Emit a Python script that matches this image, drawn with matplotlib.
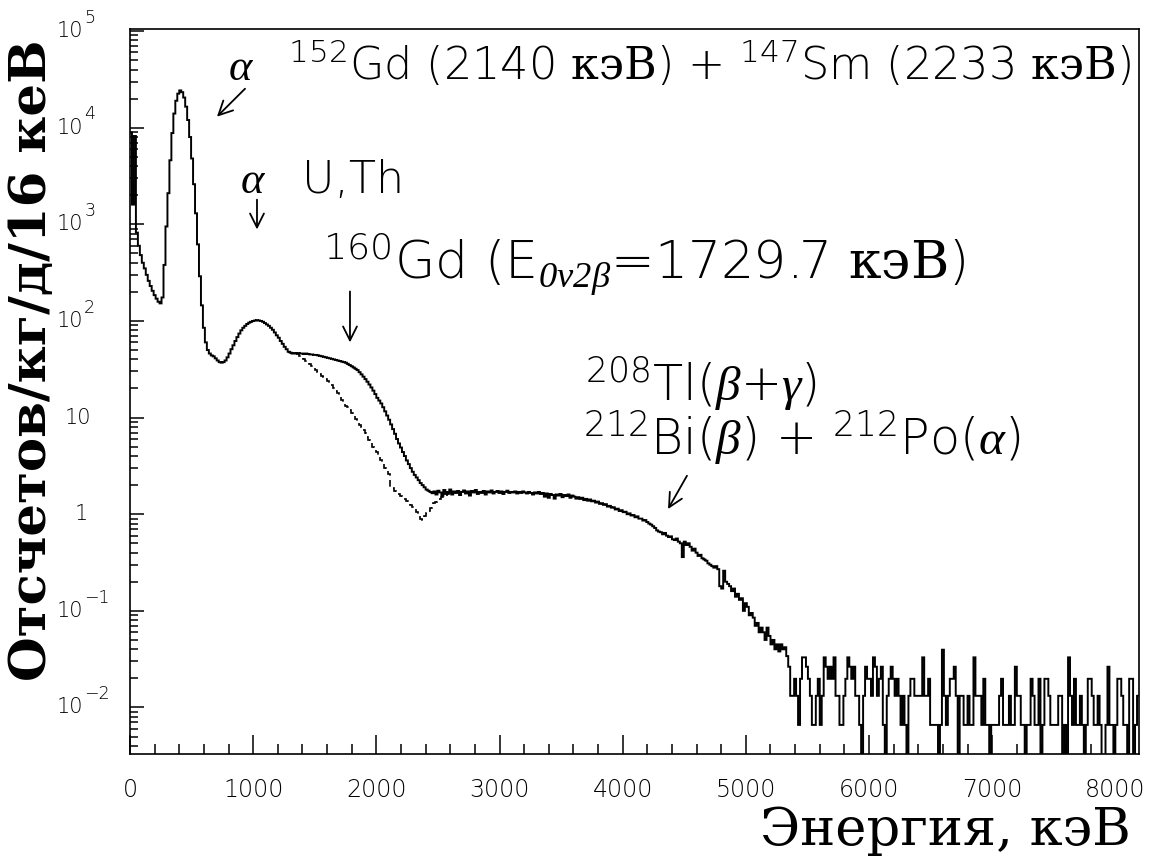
import numpy as np
import matplotlib
matplotlib.use("Agg")
import matplotlib.pyplot as plt
from matplotlib.ticker import MultipleLocator, LogLocator, NullFormatter

# ---------------------------------------------------------------- data
BIN_KEV = 16              # histogram bin width, keV
COUNT_UNIT = 0.0066       # counts/kg/d corresponding to a single event in a bin

# measured rate, counts/kg/d/16 keV, bins starting at 0 keV
rate_main = [
    8900, 1600, 8200, 820, 600, 480, 400, 350, 300, 260, 230, 205, 185, 170, 158, 152,
    175, 380, 950, 2100, 4600, 8800, 14000, 19000, 22500, 24300, 23300, 20500, 16500, 12000, 8000, 4800,
    2600, 1300, 620, 290, 145, 85, 60, 50, 46, 44, 43, 41, 39, 37.5, 37, 37.5,
    39, 42, 46, 51, 56, 62, 68, 74, 80, 85, 89, 93, 96, 98, 100, 101,
    102, 101, 100, 98, 95, 92, 89, 85, 81, 76, 71, 67, 62, 58, 54, 51,
    48, 47, 46, 46.5, 46, 46.5, 46, 46, 45.5, 46, 45.5, 45, 45, 44.5, 44.5, 44,
    43.5, 43, 42.5, 42, 41.5, 41, 40.5, 40, 39.5, 39, 38.5, 38, 37.5, 37, 36, 35,
    34, 33, 32, 31, 29.5, 28, 26.5, 25, 23.5, 22, 20.5, 19, 17.5, 16, 15, 14,
    12.8, 11.6, 10.5, 9.5, 8.5, 7.6, 6.8, 6.0, 5.4, 4.9, 4.4, 4.0, 3.6, 3.3, 3.0, 2.75,
    2.55, 2.4, 2.25, 2.1, 2.0, 1.9, 1.8, 1.75, 1.7, 1.65, 1.72, 1.6, 1.75, 1.68, 1.55, 1.78,
    1.62, 1.7, 1.8, 1.6, 1.72, 1.66, 1.74, 1.58, 1.7, 1.76, 1.64, 1.72, 1.56, 1.74, 1.68, 1.78,
    1.62, 1.7, 1.66, 1.74, 1.6, 1.72, 1.68, 1.76, 1.64, 1.7, 1.74, 1.66, 1.72, 1.62, 1.7, 1.75,
    1.66, 1.7, 1.68, 1.72, 1.64, 1.7, 1.66, 1.72, 1.68, 1.64, 1.7, 1.66, 1.6, 1.68, 1.64, 1.7,
    1.62, 1.66, 1.52, 1.64, 1.48, 1.62, 1.58, 1.45, 1.6, 1.56, 1.62, 1.5, 1.58, 1.54, 1.6, 1.48,
    1.56, 1.52, 1.45, 1.5, 1.44, 1.48, 1.4, 1.44, 1.38, 1.42, 1.36, 1.38, 1.32, 1.35, 1.28, 1.3,
    1.25, 1.27, 1.2, 1.22, 1.17, 1.18, 1.12, 1.14, 1.08, 1.1, 1.05, 1.06, 1.0, 1.02, 0.97, 0.98,
    0.93, 0.95, 0.9, 0.9, 0.86, 0.87, 0.83, 0.8, 0.78, 0.75, 0.72, 0.68, 0.66, 0.65, 0.62, 0.64,
    0.6, 0.58, 0.59, 0.55, 0.54, 0.56, 0.52, 0.5, 0.36, 0.52, 0.48, 0.5, 0.46, 0.42, 0.44, 0.4,
    0.37, 0.38, 0.35, 0.34, 0.33, 0.31, 0.3, 0.29, 0.28, 0.29, 0.27, 0.18, 0.17, 0.26, 0.2, 0.19,
    0.18, 0.16, 0.17, 0.14, 0.15, 0.13, 0.135, 0.1, 0.12, 0.11, 0.09, 0.095, 0.085, 0.07, 0.075, 0.06,
    0.067, 0.06, 0.05, 0.067, 0.055, 0.045, 0.05, 0.04, 0.045, 0.038, 0.045, 0.04, 0.042, 0.034,
]

# high-energy part, events per bin
tail_counts = [
    4, 2, 2, 3, 2, 1, 3, 5, 5, 4, 3, 2,
    1, 1, 2, 3, 1, 2, 5, 4, 3, 4, 3, 5,
    2, 2, 1, 1, 2, 3, 5, 4, 3, 4, 2, 2,
    1, 0, 2, 4, 3, 3, 2, 5, 4, 2, 3, 4,
    1, 0, 2, 3, 4, 3, 2, 3, 2, 1, 2, 1,
    0, 2, 3, 3, 2, 2, 2, 2, 5, 2, 2, 3,
    1, 1, 1, 1, 0, 1, 6, 2, 1, 2, 3, 3,
    4, 2, 0, 2, 2, 1, 1, 2, 1, 1, 5, 2,
    2, 2, 1, 3, 1, 1, 0, 1, 1, 1, 1, 2,
    3, 1, 1, 1, 2, 1, 1, 4, 2, 2, 1, 1,
    0, 1, 1, 3, 2, 1, 1, 3, 0, 1, 3, 3,
    2, 1, 1, 1, 1, 2, 2, 0, 1, 0, 5, 2,
    1, 3, 1, 1, 2, 1, 0, 1, 3, 3, 2, 1,
    1, 2, 1, 0, 0, 1, 4, 1, 1, 0, 1, 3,
    3, 2, 1, 1, 0, 3, 3, 0, 1, 2,
]

# second spectrum (dashed), differs from the first one only between these bins
dashed_first_bin = 84
rate_dashed = [
    46, 45, 43.5, 42, 40, 38.5, 37, 35.5, 34, 32.5, 31, 29.5, 28.5, 27, 26, 25,
    24, 23, 21.5, 20, 19, 17.8, 16.5, 15.3, 14.2, 13.3, 12.8, 12, 11.2, 10.4, 9.7, 9.0,
    8.4, 7.9, 7.5, 6.9, 6.3, 5.8, 5.4, 5.0, 4.7, 4.4, 4.0, 3.6, 3.3, 3.0, 2.8, 2.6,
    1.9, 1.85, 1.75, 1.7, 1.62, 1.55, 1.5, 1.42, 1.36, 1.3, 1.25, 1.2, 1.12, 1.05, 0.98, 0.9,
    0.88, 0.95, 1.02, 1.08, 1.15, 1.22, 1.3, 1.35, 1.42, 1.45, 1.5, 1.55, 1.55, 1.6, 1.65, 1.7,
]

x_ticks = [0, 1000, 2000, 3000, 4000, 5000, 6000, 7000, 8000]
y_decades = [1e-2, 1e-1, 1, 10, 1e2, 1e3, 1e4, 1e5]

# ---------------------------------------------------------------- style
plt.rcParams.update({
    "font.family": ["DejaVu Sans"],
    "mathtext.fontset": "custom",
    "mathtext.rm": "DejaVu Sans:light",
    "mathtext.sf": "DejaVu Serif",
    "mathtext.cal": "Liberation Serif:italic",
    "mathtext.default": "rm",
})

W, H = 1150, 856
fig = plt.figure(figsize=(W / 100, H / 100), dpi=100)
L, R, T, B = 130, 1139, 29, 754
ax = fig.add_axes([L / W, 1 - B / H, (R - L) / W, (B - T) / H])

# ---------------------------------------------------------------- spectra
tail_rate = np.array(tail_counts, dtype=float) * COUNT_UNIT
tail_rate[tail_rate == 0] = 1e-6          # empty bins drop below the frame
rate = np.concatenate([np.array(rate_main, dtype=float), tail_rate])
edges = np.arange(len(rate) + 1) * BIN_KEV
ax.stairs(rate, edges, color="black", lw=1.4, baseline=None)

d_edges = (dashed_first_bin + np.arange(len(rate_dashed) + 1)) * BIN_KEV
ax.stairs(rate_dashed, d_edges, color="black", lw=1.2, baseline=None,
          linestyle=(0, (4.0, 2.6)))

# ---------------------------------------------------------------- axes
ax.set_yscale("log")
ax.set_xlim(0, 8192)
ax.set_ylim(3.3e-3, 1.05e5)

for s in ax.spines.values():
    s.set_linewidth(1.2)

ax.xaxis.set_major_locator(MultipleLocator(1000))
ax.xaxis.set_minor_locator(MultipleLocator(200))
ax.yaxis.set_major_locator(LogLocator(base=10, numticks=20))
ax.yaxis.set_minor_locator(LogLocator(base=10, subs=np.arange(2, 10), numticks=20))
ax.yaxis.set_minor_formatter(NullFormatter())
ax.tick_params(axis="both", which="both", direction="in", top=False, right=False, width=1.1)
ax.tick_params(axis="x", which="major", length=13.5, pad=17, labelsize=17)
ax.tick_params(axis="x", which="minor", length=7)
ax.tick_params(axis="y", which="major", length=10, labelleft=False)
ax.tick_params(axis="y", which="minor", length=5.5)
ax.set_xticks(x_ticks)
ax.set_xticklabels([str(v) for v in x_ticks], fontweight="light")

# decade labels: base and raised exponent
ylab_tr = ax.get_yaxis_transform()
for v in y_decades:
    e = int(round(np.log10(v)))
    if e == 0:
        ax.annotate("1", xy=(0, v), xycoords=ylab_tr, xytext=(-30, 0), textcoords="offset points",
                    ha="right", va="center", fontsize=15, fontweight="light")
    elif e == 1:
        ax.annotate("10", xy=(0, v), xycoords=ylab_tr, xytext=(-28, 0), textcoords="offset points",
                    ha="right", va="center", fontsize=15, fontweight="light")
    else:
        ax.annotate("10", xy=(0, v), xycoords=ylab_tr, xytext=(-34, 0), textcoords="offset points",
                    ha="right", va="center", fontsize=15, fontweight="light")
        exp_txt = ("\u2212%d" % -e) if e < 0 else str(e)
        ax.annotate(exp_txt, xy=(0, v), xycoords=ylab_tr, xytext=(-33, 9.5), textcoords="offset points",
                    ha="left", va="center", fontsize=12.5, fontweight="light")

fig.text(33 / W, 1 - 360 / H, "Отсчетов/кг/д/16 кеВ", rotation=90, ha="center", va="center",
         fontsize=37, family="DejaVu Serif", fontweight="bold")
fig.text(1131 / W, 1 - 845 / H, "Энергия, кэВ", ha="right", va="baseline",
         fontsize=38, family="DejaVu Serif")

# ---------------------------------------------------------------- annotations
ann = dict(fontsize=32, ha="left", va="baseline", fontweight="light")
ax.text(796, 3.1e4, r"$\mathcal{\alpha}$", **ann)
ax.text(1283, 3.1e4, r"$^{152}$Gd (2140 $\mathsf{кэВ}$) + $^{147}$Sm (2233 $\mathsf{кэВ}$)", **ann)
ax.text(893, 2130, r"$\mathcal{\alpha}$", **ann)
ax.text(1396, 2130, "U,Th", **ann)
ax.text(1567, 268, r"$^{160}$Gd (E$_{\mathcal{0\nu2\beta}}$=1729.7 $\mathsf{кэВ}$)",
        fontsize=37.5, ha="left", va="baseline", fontweight="light")
ann2 = dict(fontsize=35.5, ha="left", va="baseline", fontweight="light")
ax.text(3694, 15.0, r"$^{208}$Tl($\mathcal{\beta}$+$\mathcal{\gamma}$)", **ann2)
ax.text(3678, 4.15, r"$^{212}$Bi($\mathcal{\beta}$) + $^{212}$Po($\mathcal{\alpha}$)", **ann2)

arrow = dict(arrowstyle="->,head_length=0.5,head_width=0.25", lw=1.3, color="black",
             shrinkA=0, shrinkB=0, mutation_scale=20)
ax.annotate("", xy=(706, 1.3e4), xytext=(934, 2.53e4), arrowprops=arrow)
ax.annotate("", xy=(1031, 885), xytext=(1031, 1800), arrowprops=arrow)
ax.annotate("", xy=(1786, 60), xytext=(1786, 202), arrowprops=arrow)
ax.annotate("", xy=(4368, 1.13), xytext=(4522, 2.5), arrowprops=arrow)

fig.savefig("out.png", dpi=100, facecolor="white")
